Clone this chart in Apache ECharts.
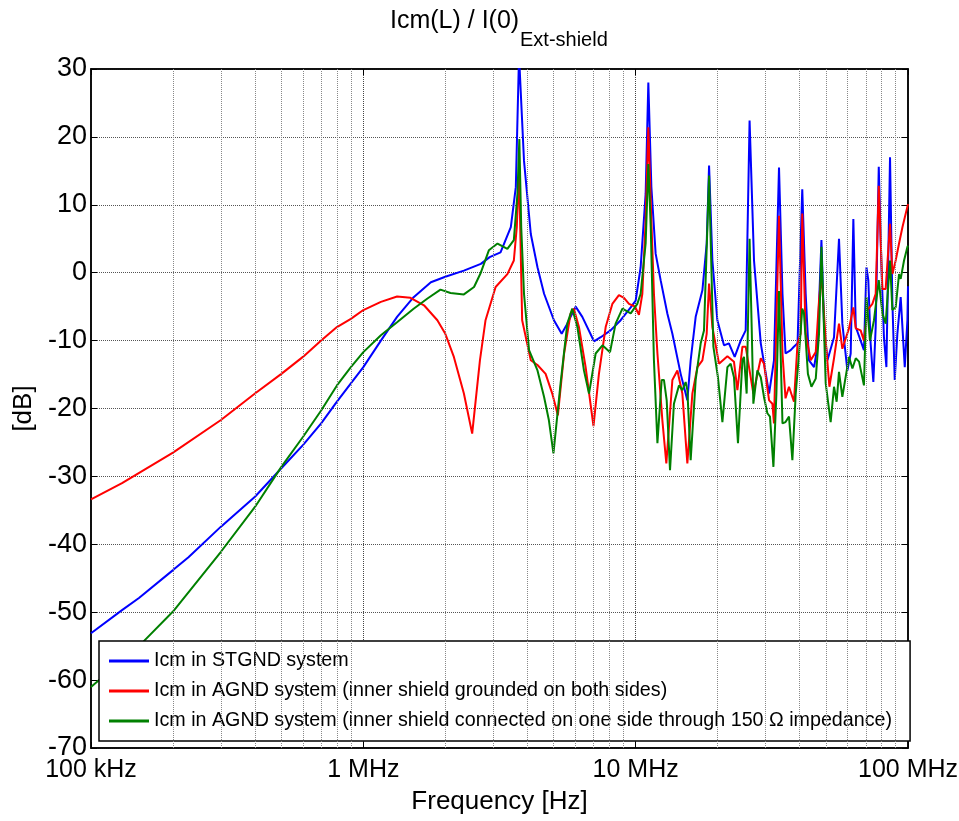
<!DOCTYPE html>
<html>
	<head>
		<meta charset="UTF-8">
		<title>Icm(L) / I(0)</title>
		<script src="https://cdn.jsdelivr.net/npm/echarts@6/dist/echarts.min.js"></script>
		<style>
			html, body { margin: 0; padding: 0; background: #fff; }
			#main { width: 959px; height: 821px; }
		</style>
	</head>
	<body>
		<div id="main"></div>
		<script>
		// [frequency in MHz, level in dB]
		var stgnd = [[0.1,-53.1],[0.13,-49.7],[0.15,-47.9],[0.2,-43.8],[0.228,-41.9],[0.3,-37.4],[0.4,-33.0],[0.5,-28.8],[0.6,-25.4],[0.7,-22.2],[0.8,-19.0],[0.9,-16.3],[1.0,-13.9],[1.16,-10.0],[1.33,-6.5],[1.53,-3.6],[1.77,-1.4],[2.0,-0.6],[2.34,0.3],[2.7,1.3],[2.91,2.3],[3.19,3.0],[3.48,6.7],[3.63,12.6],[3.73,32],[3.89,16.5],[4.12,5.7],[4.36,0.8],[4.61,-3.1],[5.01,-7.0],[5.35,-9.0],[5.61,-7.5],[6.02,-5.0],[6.37,-6.5],[7.03,-10.1],[7.44,-9.5],[8.09,-8.5],[8.81,-7.0],[9.59,-5.1],[10.0,-4.1],[10.43,0.8],[10.88,11.6],[11.13,28.0],[11.42,12.6],[11.84,2.8],[12.35,-1.1],[13.07,-6.0],[13.64,-9.0],[14.63,-14.9],[15.48,-18.8],[15.92,-12.9],[16.61,-6.5],[17.58,-2.6],[18.23,4.3],[18.6,15.8],[19.13,1.8],[19.95,-7.0],[21.1,-10.7],[22.0,-10.4],[23.1,-12.4],[24.3,-10.0],[25.35,-8.5],[26.2,22.4],[27.2,1.8],[28.8,-10.4],[30.9,-17.8],[32.2,-12.9],[33.6,15.5],[34.6,-3.1],[35.5,-11.9],[37.1,-11.4],[38.1,-10.9],[39.3,-10.4],[40.9,12.3],[42.1,-3.1],[43.3,-12.9],[45.2,-13.9],[46.5,-10.9],[48.1,4.8],[49.2,-8.0],[50.6,-12.9],[53.5,-9.5],[55.8,5.0],[57.4,-7.5],[59.9,-14.4],[61.6,-11.9],[63.0,7.9],[64.3,-8.0],[67.0,-10.0],[68.9,-11.4],[70.4,0.8],[71.5,-1.1],[72.9,-10.4],[74.6,-16.1],[76.1,-8.0],[78.1,15.6],[80.1,-0.6],[81.6,-9.5],[83.3,-13.9],[85.9,17.0],[87.6,-4.1],[89.4,-15.8],[91.4,-9.0],[94.0,-3.6],[97.3,-13.9],[99.5,-7.0],[100,-2.0]];
		var agndBoth = [[0.1,-33.4],[0.13,-31.0],[0.2,-26.5],[0.3,-21.7],[0.4,-17.8],[0.5,-14.9],[0.6,-12.4],[0.7,-10.0],[0.8,-8.0],[0.9,-6.8],[1.0,-5.5],[1.16,-4.3],[1.33,-3.5],[1.49,-3.7],[1.67,-4.8],[1.87,-7.0],[2.0,-9.0],[2.15,-12.4],[2.34,-17.8],[2.51,-23.7],[2.68,-12.9],[2.81,-7.0],[3.06,-2.1],[3.38,-0.2],[3.57,1.8],[3.66,6.7],[3.73,15],[3.83,-7.0],[4.12,-12.9],[4.36,-13.6],[4.67,-14.9],[4.94,-17.8],[5.18,-21.0],[5.46,-11.9],[5.77,-6.0],[5.93,-5.3],[6.19,-8.0],[6.55,-13.9],[7.0,-22.6],[7.33,-14.9],[7.76,-8.0],[8.21,-4.6],[8.68,-3.3],[9.06,-3.7],[9.45,-4.6],[9.86,-4.9],[10.0,-5.2],[10.28,-6.2],[10.58,-3.1],[10.88,7.7],[11.13,21.4],[11.42,7.7],[11.67,-3.1],[12.02,-11.9],[12.53,-21.7],[12.96,-28.1],[13.64,-15.8],[14.23,-14.4],[14.84,-17.8],[15.48,-28.1],[16.15,-17.8],[16.85,-13.9],[17.58,-12.9],[18.23,-9.0],[18.6,-1.6],[19.13,-8.0],[20.23,-13.4],[21.72,-12.3],[22.96,-13.1],[23.63,-17.3],[24.66,-10.9],[25.35,-10.9],[27.05,-17.8],[28.8,-12.6],[29.59,-13.4],[30.9,-18.8],[31.77,-19.3],[32.2,-22.2],[33.6,8.4],[34.6,-11.9],[35.5,-18.5],[36.56,-16.8],[38.13,-19.0],[39.3,-10.4],[40.36,-9.0],[40.9,8.7],[42.1,-9.0],[43.92,-12.9],[45.84,-11.7],[47.13,-4.1],[48.1,-0.2],[49.87,-10.0],[51.45,-16.8],[53.5,-12.6],[55.8,-7.5],[57.4,-11.2],[60.72,-8.2],[63.0,-5.1],[64.3,-8.2],[67.0,-8.5],[68.9,-10.0],[70.95,-5.5],[74.0,-4.6],[76.1,-3.1],[78.1,12.8],[80.53,-2.4],[82.8,-2.4],[85.9,7.2],[87.6,-0.2],[90.1,1.8],[92.7,4.3],[95.4,6.7],[100,10.1]];
		var agndOneSide = [[0.1,-61.0],[0.156,-54.3],[0.2,-49.9],[0.3,-41.1],[0.4,-34.5],[0.5,-28.6],[0.6,-24.2],[0.7,-20.3],[0.8,-16.6],[0.9,-13.9],[1.0,-11.7],[1.16,-9.2],[1.33,-7.3],[1.53,-5.3],[1.72,-3.8],[1.92,-2.5],[2.09,-3.0],[2.34,-3.2],[2.55,-2.1],[2.70,0.0],[2.89,3.3],[3.11,4.3],[3.38,3.5],[3.57,4.8],[3.68,11.6],[3.74,19.7],[3.80,6.7],[3.89,-3.1],[4.06,-11.4],[4.36,-14.4],[4.61,-18.3],[4.80,-21.7],[4.99,-26.6],[5.30,-16.3],[5.61,-7.5],[5.85,-5.3],[6.11,-8.0],[6.46,-14.4],[6.74,-17.8],[7.13,-11.9],[7.55,-10.7],[8.05,-11.7],[8.44,-7.5],[8.94,-5.3],[9.59,-6.0],[10.14,-4.6],[10.43,-3.1],[10.88,4.3],[11.13,16.0],[11.36,6.7],[11.67,-12.9],[12.02,-25.1],[12.46,-15.8],[12.70,-15.8],[13.0,-18.8],[13.37,-29.1],[13.82,-19.3],[14.42,-16.6],[14.84,-17.3],[15.26,-16.1],[15.48,-17.3],[15.92,-27.6],[16.61,-15.8],[17.33,-10.4],[17.82,-8.5],[18.6,14.3],[19.29,-10.9],[20.05,-15.4],[20.82,-22.0],[21.72,-13.9],[22.33,-13.4],[22.96,-15.4],[23.75,-25.1],[24.66,-12.9],[24.99,-12.4],[25.56,-17.8],[26.2,5.0],[26.67,-8.0],[27.05,-19.3],[27.98,-14.4],[28.8,-15.4],[29.59,-18.3],[30.45,-20.7],[31.13,-21.2],[32.05,-28.6],[32.87,-17.8],[33.6,-2.7],[34.6,-22.2],[35.5,-22.0],[36.56,-21.2],[37.62,-27.6],[38.7,-17.8],[39.8,-11.9],[40.9,-5.3],[41.5,-6.0],[42.9,-14.9],[44.2,-16.8],[45.84,-15.6],[47.13,-9.0],[48.1,3.8],[49.87,-16.3],[52.0,-22.0],[53.5,-16.8],[54.7,-19.0],[55.8,-14.6],[57.4,-18.3],[60.72,-12.4],[62.5,-14.1],[64.3,-12.6],[66.1,-13.1],[68.9,-16.6],[70.4,-3.6],[72.5,-10.0],[75.0,-7.0],[78.1,-1.1],[80.53,-6.0],[82.8,-7.5],[85.9,1.8],[87.6,-5.5],[90.1,-5.1],[92.7,-0.2],[94.0,-0.9],[96.7,1.8],[99.5,3.8],[100,4.0]];

		var seriesNames = [
			'Icm in STGND system',
			'Icm in AGND system (inner shield grounded on both sides)',
			'Icm in AGND system (inner shield connected on one side through 150 \u03A9 impedance)'
		];
		var seriesColors = ['#0000ff', '#ff0000', '#008000'];
		// minor grid lines of the log axis (MHz)
		var minorFreqs = [0.2,0.3,0.4,0.5,0.6,0.7,0.8,0.9,2,3,4,5,6,7,8,9,20,30,40,50,60,70,80,90];
		var freqLabels = {'-1': '100 kHz', '0': '1 MHz', '1': '10 MHz', '2': '100 MHz'};

		var font = "'Liberation Sans', Arial, sans-serif";

		var chart = echarts.init(document.getElementById('main'));

		function curve(name, data, color) {
			return {
				name: name,
				type: 'line',
				data: data,
				symbol: 'none',
				showSymbol: false,
				clip: true,
				z: 3,
				lineStyle: { color: color, width: 2 },
				itemStyle: { color: color }
			};
		}

		chart.setOption({
			animation: false,
			backgroundColor: '#fff',
			title: [{
				text: 'Icm(L) / I(0)',
				left: 390, top: 9, padding: 0,
				textStyle: { fontSize: 25, fontWeight: 'normal', color: '#000', fontFamily: font }
			}, {
				text: 'Ext-shield',
				left: 520, top: 30, padding: 0,
				textStyle: { fontSize: 20, fontWeight: 'normal', color: '#000', fontFamily: font }
			}],
			legend: {
				data: seriesNames,
				orient: 'vertical',
				left: 99, top: 641,
				icon: 'rect',
				itemWidth: 40, itemHeight: 3, itemGap: 8,
				padding: [9, 18, 9, 10],
				borderColor: '#000', borderWidth: 1.5,
				backgroundColor: '#fff',
				textStyle: { fontSize: 19.7, color: '#000', fontFamily: font, lineHeight: 22 }
			},
			grid: {
				left: 91, right: 51, top: 69, bottom: 73,
				outerBoundsMode: 'none',
				show: true, borderColor: '#000', borderWidth: 1.5
			},
			xAxis: [{
				type: 'log', logBase: 10, min: 0.1, max: 100,
				name: 'Frequency [Hz]', nameLocation: 'middle', nameGap: 41,
				nameTextStyle: { fontSize: 26, color: '#000', fontFamily: font },
				axisLine: { onZero: false, lineStyle: { color: '#000', width: 1.5 } },
				axisTick: { inside: true, length: 6, lineStyle: { color: '#000' } },
				axisLabel: {
					fontSize: 25, color: '#000', fontFamily: font, margin: 10,
					formatter: function (v) { return freqLabels[String(Math.round(Math.log10(v)))] || ''; }
				},
				splitLine: { show: true, lineStyle: { color: '#444', type: 'dotted', width: 1 } }
			}, {
				type: 'log', logBase: 10, min: 0.1, max: 100, position: 'top',
				axisLine: { onZero: false, lineStyle: { color: '#000', width: 1.5 } },
				axisTick: { inside: true, length: 6, lineStyle: { color: '#000' } },
				axisLabel: { show: false },
				splitLine: { show: false }
			}],
			yAxis: [{
				type: 'value', min: -70, max: 30, interval: 10,
				name: '[dB]', nameLocation: 'middle', nameGap: 42, nameRotate: 90,
				nameTextStyle: { fontSize: 26, color: '#000', fontFamily: font },
				axisLine: { show: true, onZero: false, lineStyle: { color: '#000', width: 1.5 } },
				axisTick: { show: true, inside: true, length: 6, lineStyle: { color: '#000' } },
				axisLabel: { fontSize: 27, color: '#000', fontFamily: font, margin: 4 },
				splitLine: { show: true, lineStyle: { color: '#555', type: 'dotted', width: 1 } }
			}, {
				type: 'value', min: -70, max: 30, interval: 10, position: 'right',
				axisLine: { show: true, onZero: false, lineStyle: { color: '#000', width: 1.5 } },
				axisTick: { show: true, inside: true, length: 6, lineStyle: { color: '#000' } },
				axisLabel: { show: false },
				splitLine: { show: false }
			}],
			series: [{
				name: 'minor-grid',
				type: 'line',
				data: [],
				z: 1,
				silent: true,
				markLine: {
					silent: true,
					symbol: 'none',
					label: { show: false },
					animation: false,
					lineStyle: { color: '#888', type: 'dotted', width: 1 },
					data: minorFreqs.map(function (f) { return { xAxis: f }; })
				}
			},
				curve(seriesNames[0], stgnd, seriesColors[0]),
				curve(seriesNames[1], agndBoth, seriesColors[1]),
				curve(seriesNames[2], agndOneSide, seriesColors[2])
			]
		});
		</script>
	</body>
</html>
